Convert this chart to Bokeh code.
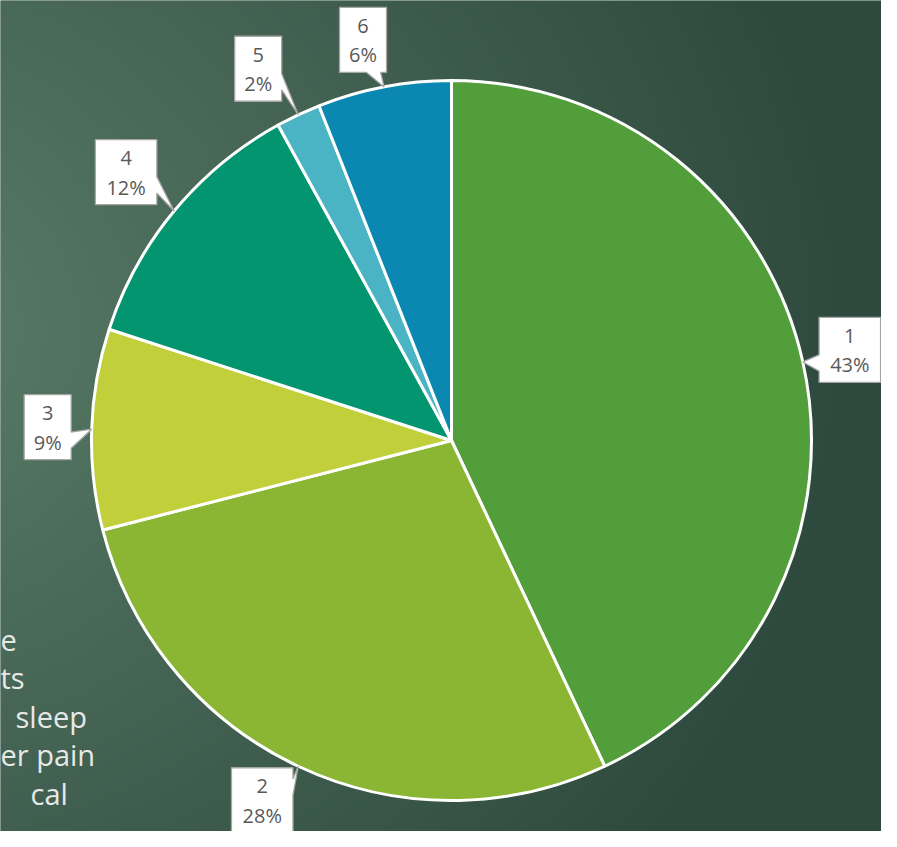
import numpy as np
from bokeh.plotting import figure
from bokeh.models import Range1d
from bokeh.embed import file_html
from bokeh.resources import INLINE
from bokeh.core.properties import value

# ---- data ----
categories = ["1", "2", "3", "4", "5", "6"]
shares = [43, 28, 9, 12, 2, 6]
pct_labels = ["43%", "28%", "9%", "12%", "2%", "6%"]
side_text = ["e", "ts", "sleep", "er pain", "cal"]

# ---- style / layout ----
slice_colors = ["#529E3A", "#8AB634", "#C0CF3A", "#03956F", "#4AB4C4", "#0A88B2"]
label_offsets = [(47, 12), (-36, -34), (-44, 2), (-48, 39), (-40, 46), (-21, 47)]
side_x = [0, 0, 15, 0, 30]
side_y_ref = [640, 677, 716, 754, 793]

W, H = 881, 831
REF_H = 847
X0, X1 = 0, W
Y0, Y1 = REF_H - H, REF_H
cx, cy, R = 451, REF_H - 440, 360

p = figure(width=W, height=H, x_range=Range1d(X0, X1), y_range=Range1d(Y0, Y1),
           output_backend="svg", toolbar_location=None, min_border=0)
p.axis.visible = False
p.grid.visible = False
p.outline_line_color = None
p.background_fill_color = "#3d5a4a"
p.border_fill_color = "#3d5a4a"

# ---- background gradient ----
nx, ny = 180, 170
xs_ref = X0 + (np.arange(nx) + 0.5) * (X1 - X0) / nx
ys_data = Y0 + (np.arange(ny) + 0.5) * (Y1 - Y0) / ny
ys_ref = REF_H - ys_data
GX, GY = np.meshgrid(xs_ref, ys_ref)
d = np.sqrt((GX + 150) ** 2 + ((GY - 330) * 1.15) ** 2)
t = np.clip(d / 1000.0, 0, 1)
light = np.array([92, 126, 106])
dark = np.array([46, 74, 62])
rgb = light[None, None, :] * (1 - t[..., None]) + dark[None, None, :] * t[..., None]
img = np.empty((ny, nx), dtype=np.uint32)
view = img.view(dtype=np.uint8).reshape((ny, nx, 4))
view[..., 0] = rgb[..., 0].astype(np.uint8)
view[..., 1] = rgb[..., 1].astype(np.uint8)
view[..., 2] = rgb[..., 2].astype(np.uint8)
view[..., 3] = 255
p.image_rgba(image=[img], x=X0, y=Y0, dw=X1 - X0, dh=Y1 - Y0)

# ---- pie ----
total = float(sum(shares))
fr = np.array(shares) / total
cum = np.concatenate([[0], np.cumsum(fr)])
start = np.pi / 2 - 2 * np.pi * cum[:-1]
end = np.pi / 2 - 2 * np.pi * cum[1:]
p.wedge(x=cx, y=cy, radius=R, start_angle=list(start), end_angle=list(end),
        direction="clock", fill_color=slice_colors, line_color="white", line_width=3)

# ---- callout labels ----
def callout(bx, by, w, h, tx, ty):
    l, r, b, tp = bx - w / 2, bx + w / 2, by - h / 2, by + h / 2
    ex = abs(tx - bx) - w / 2
    ey = abs(ty - by) - h / 2
    if ex > ey:
        sy = 1 if ty > by else -1
        ya, yb = sorted([by + sy * h / 2 * 0.15, by + sy * h / 2 * 0.65])
        if tx > bx:
            pts = [(l, b), (r, b), (r, ya), (tx, ty), (r, yb), (r, tp), (l, tp)]
        else:
            pts = [(l, b), (r, b), (r, tp), (l, tp), (l, yb), (tx, ty), (l, ya)]
    else:
        sx = 1 if tx > bx else -1
        xa, xb = sorted([bx + sx * w / 2 * 0.15, bx + sx * w / 2 * 0.75])
        if ty > by:
            pts = [(l, b), (r, b), (r, tp), (xb, tp), (tx, ty), (xa, tp), (l, tp)]
        else:
            pts = [(l, b), (xa, b), (tx, ty), (xb, b), (r, b), (r, tp), (l, tp)]
    return [q[0] for q in pts], [q[1] for q in pts]

mid = np.pi / 2 - 2 * np.pi * (cum[:-1] + cum[1:]) / 2
pxs, pys, cat_x, cat_y, pct_y = [], [], [], [], []
for i in range(len(shares)):
    tx = cx + R * np.cos(mid[i])
    ty = cy + R * np.sin(mid[i])
    bx = tx + label_offsets[i][0]
    by = ty + label_offsets[i][1]
    w = 18 + 14.5 * len(pct_labels[i])
    h = 65
    xx, yy = callout(bx, by, w, h, tx, ty)
    pxs.append(xx)
    pys.append(yy)
    cat_x.append(bx)
    cat_y.append(by + 14)
    pct_y.append(by - 15)

p.patches(xs=pxs, ys=pys, fill_color="white", line_color="#A6A6A6", line_width=1.3)
p.text(x=cat_x, y=cat_y, text=categories, text_font=value("Open Sans"), text_font_size="20px",
       text_color="#595959", text_align="center", text_baseline="middle")
p.text(x=cat_x, y=pct_y, text=pct_labels, text_font=value("Open Sans"), text_font_size="20px",
       text_color="#595959", text_align="center", text_baseline="middle")

# ---- partial slide text on left ----
p.text(x=side_x, y=[REF_H - v for v in side_y_ref], text=side_text, text_font=value("Open Sans"),
       text_font_size="29px", text_color="#E6E9E7", text_align="left", text_baseline="middle")

open("out.html", "w").write(file_html(p, INLINE))
